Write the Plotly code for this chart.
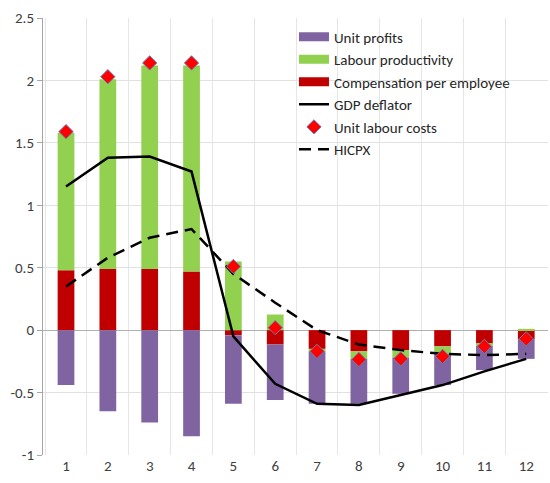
import plotly.graph_objects as go

categories = [1, 2, 3, 4, 5, 6, 7, 8, 9, 10, 11, 12]
compensation = [0.48, 0.49, 0.49, 0.47, -0.04, -0.115, -0.15, -0.17, -0.16, -0.13, -0.11, -0.075]
productivity = [1.10, 1.52, 1.63, 1.65, 0.55, 0.125, -0.02, -0.06, -0.06, -0.06, -0.015, 0.01]
unit_profits = [-0.44, -0.65, -0.74, -0.85, -0.55, -0.445, -0.42, -0.36, -0.29, -0.25, -0.195, -0.155]
unit_labour_costs = [1.59, 2.03, 2.14, 2.14, 0.51, 0.02, -0.17, -0.235, -0.23, -0.21, -0.13, -0.07]
gdp_deflator = [1.15, 1.38, 1.39, 1.27, -0.05, -0.43, -0.59, -0.60, -0.52, -0.44, -0.33, -0.23]
hicpx = [0.35, 0.58, 0.74, 0.81, 0.45, 0.22, 0.0, -0.115, -0.16, -0.19, -0.20, -0.19]
y_tick_vals = [-1, -0.5, 0, 0.5, 1, 1.5, 2, 2.5]
y_tick_text = ["-1", "-0.5", "0", "0.5", "1", "1.5", "2", "2.5"]

FONT = "Carlito, Lato, sans-serif"
PURPLE, GREEN, RED = "#8064A2", "#92D050", "#C00000"

fig = go.Figure()
# stacked bars (first trace sits nearest to zero)
fig.add_trace(go.Bar(x=categories, y=compensation, name="Compensation per employee",
                     marker=dict(color=RED, line=dict(width=0)), showlegend=False, legendgroup="c"))
fig.add_trace(go.Bar(x=categories, y=productivity, name="Labour productivity",
                     marker=dict(color=GREEN, line=dict(width=0)), showlegend=False, legendgroup="p"))
fig.add_trace(go.Bar(x=categories, y=unit_profits, name="Unit profits",
                     marker=dict(color=PURPLE, line=dict(width=0)), showlegend=False, legendgroup="u"))
# legend swatches (wide bars) for the bar series
for nm, col, grp, rank in [("Unit profits", PURPLE, "u", 1),
                           ("Labour productivity", GREEN, "p", 2),
                           ("Compensation per employee", RED, "c", 3)]:
    fig.add_trace(go.Scatter(x=[None], y=[None], mode="lines", name=nm, legendgroup=grp,
                             line=dict(color=col, width=9), legendrank=rank, hoverinfo="skip"))
fig.add_trace(go.Scatter(x=categories, y=gdp_deflator, name="GDP deflator", mode="lines",
                         line=dict(color="black", width=2.5), legendrank=4))
fig.add_trace(go.Scatter(x=categories, y=hicpx, name="HICPX", mode="lines",
                         line=dict(color="black", width=2.5, dash="12px,7px"), legendrank=6))
fig.add_trace(go.Scatter(x=categories, y=unit_labour_costs, name="Unit labour costs", mode="markers",
                         marker=dict(symbol="diamond", size=11, color="#FF0000",
                                     line=dict(color="#6A7FB5", width=1)), legendrank=5))

fig.update_layout(
    width=550, height=483,
    margin=dict(l=43, r=2, t=18, b=28),
    barmode="relative",
    bargap=0.6,
    plot_bgcolor="white",
    paper_bgcolor="white",
    font=dict(family=FONT, size=15, color="#404040"),
    showlegend=True,
    legend=dict(x=0.497, y=0.994, xanchor="left", yanchor="top",
                bgcolor="rgba(255,255,255,0)", font=dict(size=15, color="#262626"),
                tracegroupgap=0, itemwidth=30),
    xaxis=dict(range=[0.45, 12.52], tickvals=categories, ticktext=[str(c) for c in categories],
               showgrid=False, zeroline=False, showline=False, ticks="",
               tickfont=dict(size=15, color="#404040"),
               minor=dict(tick0=0.5, dtick=1, showgrid=True, gridcolor="#E6E6E6", gridwidth=1)),
    yaxis=dict(range=[-1, 2.5], tickvals=y_tick_vals, ticktext=y_tick_text,
               showgrid=True, gridcolor="#E1E1E1", gridwidth=1,
               zeroline=True, zerolinecolor="#B0B0B0", zerolinewidth=1,
               showline=True, linecolor="#A6A6A6", linewidth=1,
               ticks="outside", ticklen=5, tickcolor="#A6A6A6",
               tickfont=dict(size=15, color="#404040")),
)

fig.write_html("out.html", config={"displayModeBar": False},
               post_script="document.body.style.margin='0';")
